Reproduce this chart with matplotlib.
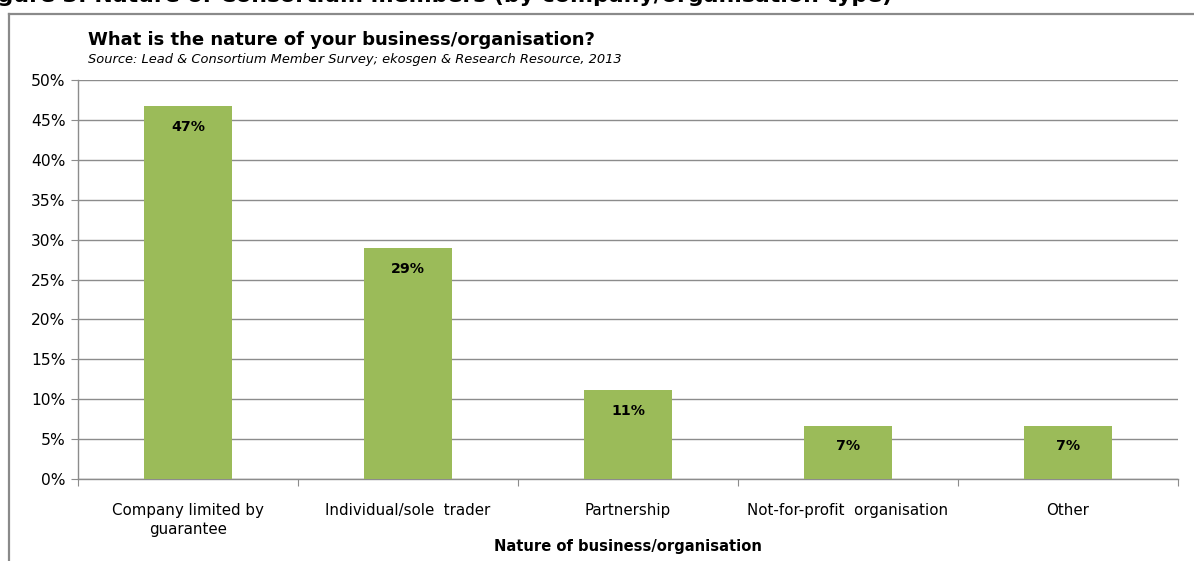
import matplotlib
matplotlib.use("Agg")
import matplotlib.pyplot as plt
from matplotlib.lines import Line2D
from matplotlib.ticker import FixedLocator, PercentFormatter

plt.rcParams['font.family'] = ['DejaVu Sans']

categories = ["Company limited by\nguarantee", "Individual/sole  trader", "Partnership",
              "Not-for-profit  organisation", "Other"]
shares = [46.7, 28.9, 11.1, 6.7, 6.7]
bar_labels = ["47%", "29%", "11%", "7%", "7%"]

bar_color = "#9BBB59"
grid_color = "#8C8C8C"

fig = plt.figure(figsize=(11.94, 5.61), dpi=100)
W, H = 1194, 561

# outer frame (top and left edges of the panel)
fig.add_artist(Line2D([9 / W, 1.0], [1 - 14 / H, 1 - 14 / H], transform=fig.transFigure,
                      color="#8A8A8A", lw=1.6))
fig.add_artist(Line2D([9 / W, 9 / W], [0.0, 1 - 14 / H], transform=fig.transFigure,
                      color="#8A8A8A", lw=1.6))

# document heading above the panel
fig.text(892 / W, 1 - 1.5 / H, "Figure 3: Nature of Consortium members (by company/organisation type)",
         fontsize=15.8, fontweight="bold", va="baseline", ha="right")

ax = fig.add_axes([78 / W, 1 - 479 / H, (1178 - 78) / W, (479 - 80) / H])

x = list(range(len(categories)))
ax.bar(x, shares, width=0.4, color=bar_color, zorder=3)

for xi, v, lab in zip(x, shares, bar_labels):
    ax.annotate(lab, (xi, v), xytext=(0, -15), textcoords="offset points",
                ha="center", va="center", fontsize=10.2, fontweight="bold")

ax.set_xlim(-0.5, len(categories) - 0.5)
ax.set_ylim(0, 50)
ax.yaxis.set_major_locator(FixedLocator(range(0, 51, 5)))
ax.yaxis.set_major_formatter(PercentFormatter(decimals=0))
ax.yaxis.grid(True, color=grid_color, lw=1.0, zorder=0)

ax.set_xticks([i - 0.5 for i in range(len(categories) + 1)])
ax.set_xticklabels([])
ax.set_xticks(x, minor=True)
ax.set_xticklabels(categories, minor=True, linespacing=1.4)
ax.tick_params(axis="x", which="minor", length=0, pad=17, labelsize=10.8)
ax.tick_params(axis="x", which="major", length=5, color=grid_color, direction="out")
ax.tick_params(axis="y", length=5, color=grid_color, direction="out", labelsize=11.2, pad=4)

for s in ("top", "right"):
    ax.spines[s].set_visible(False)
for s in ("left", "bottom"):
    ax.spines[s].set_color(grid_color)
    ax.spines[s].set_linewidth(1.0)

ax.set_xlabel("Nature of business/organisation", fontsize=10.6, fontweight="bold", labelpad=1)

fig.text(88 / W, 1 - 40 / H, "What is the nature of your business/organisation?",
         fontsize=13, fontweight="bold", va="center", ha="left")
fig.text(88 / W, 1 - 60 / H,
         "Source: Lead & Consortium Member Survey; ekosgen & Research Resource, 2013",
         fontsize=9.4, style="italic", va="center", ha="left")

fig.savefig("out.png", dpi=100)
